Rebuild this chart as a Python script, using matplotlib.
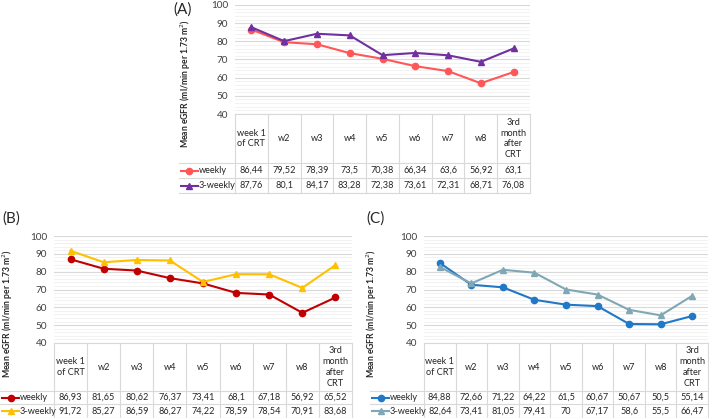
import numpy as np
import matplotlib
matplotlib.use("Agg")
import matplotlib.pyplot as plt
from matplotlib.ticker import MultipleLocator

# ------------------------------------------------------------------
# Mean eGFR per week, weekly vs. 3-weekly cisplatin, three panels
# each with an Excel style data table under the line chart

plt.rcParams['font.family'] = ['Lato', 'DejaVu Sans']

categories = ["week 1\nof CRT", "w2", "w3", "w4", "w5", "w6", "w7", "w8",
              "3rd\nmonth\nafter\nCRT"]
series_names = ["weekly", "3-weekly"]

a_weekly = [86.44, 79.52, 78.39, 73.5, 70.38, 66.34, 63.6, 56.92, 63.1]
a_3weekly = [87.76, 80.1, 84.17, 83.28, 72.38, 73.61, 72.31, 68.71, 76.08]
b_weekly = [86.93, 81.65, 80.62, 76.37, 73.41, 68.1, 67.18, 56.92, 65.52]
b_3weekly = [91.72, 85.27, 86.59, 86.27, 74.22, 78.59, 78.54, 70.91, 83.68]
c_weekly = [84.88, 72.66, 71.22, 64.22, 61.5, 60.67, 50.67, 50.5, 55.14]
c_3weekly = [82.64, 73.41, 81.05, 79.41, 70, 67.17, 58.6, 55.5, 66.47]

W, H = 709, 418
fig = plt.figure(figsize=(W / 100, H / 100), dpi=100)

GRID = "#d9d9d9"
MINOR = "#f0f0f0"
TXT = "#262626"
FS = 6.6


def fmt(v):
    return ("%g" % v).replace(".", ",")


def px_axes(x0, y0, x1, y1):
    # axes from pixel box (top-left origin)
    return fig.add_axes([x0 / W, 1 - y1 / H, (x1 - x0) / W, (y1 - y0) / H])


def panel(label, label_xy, leg_left, plot_l, plot_r, plot_t, plot_b,
          hdr_b, row1_b, row2_b, ylab_x, weekly, threeweekly, colors):
    # line chart
    ax = px_axes(plot_l, plot_t, plot_r, plot_b)
    x = np.arange(len(categories))
    ax.plot(x, weekly, color=colors[0], lw=1.5, marker="o", ms=4.5,
            zorder=3)
    ax.plot(x, threeweekly, color=colors[1], lw=1.5, marker="^", ms=4.5,
            zorder=3)
    ax.set_xlim(-0.5, len(categories) - 0.5)
    ax.set_ylim(40, 100)
    ax.yaxis.set_major_locator(MultipleLocator(10))
    ax.yaxis.set_minor_locator(MultipleLocator(2))
    ax.grid(axis="y", which="major", color=GRID, lw=0.8)
    ax.grid(axis="y", which="minor", color=MINOR, lw=0.6)
    ax.set_axisbelow(True)
    for s in ax.spines.values():
        s.set_visible(False)
    ax.set_xticks([])
    ax.tick_params(axis="y", which="both", length=0, labelsize=FS + 0.6,
                   labelcolor="#404040", pad=5)

    # data table underneath
    u = (plot_r - plot_l) / len(categories)
    tx = px_axes(leg_left, plot_b, plot_r, row2_b)
    tx.set_xlim(-0.5 - (plot_l - leg_left) / u, len(categories) - 0.5)
    tx.set_ylim(row2_b, plot_b)
    tx.axis("off")
    xl = -0.5 - (plot_l - leg_left) / u
    xr = len(categories) - 0.5
    lk = dict(color=GRID, lw=0.8, clip_on=False)
    tx.plot([-0.5, xr], [plot_b, plot_b], **lk)
    for yy in (hdr_b, row1_b, row2_b):
        tx.plot([xl, xr], [yy, yy], **lk)
    for i in range(len(categories) + 1):
        tx.plot([i - 0.5, i - 0.5], [plot_b, row2_b], **lk)

    for i, c in enumerate(categories):
        tx.text(i, (plot_b + hdr_b) / 2, c, ha="center", va="center",
                fontsize=FS, color=TXT, linespacing=1.25)
        tx.text(i, (hdr_b + row1_b) / 2, fmt(weekly[i]), ha="center",
                va="center", fontsize=FS, color=TXT)
        tx.text(i, (row1_b + row2_b) / 2, fmt(threeweekly[i]), ha="center",
                va="center", fontsize=FS, color=TXT)

    # legend keys inside the first column
    lw_units = 17 / u
    for yy, name, col, mk in (((hdr_b + row1_b) / 2, series_names[0],
                               colors[0], "o"),
                              ((row1_b + row2_b) / 2, series_names[1],
                               colors[1], "^")):
        x0 = xl + 2 / u
        tx.plot([x0, x0 + lw_units], [yy, yy], color=col, lw=1.5,
                clip_on=False)
        tx.plot([x0 + lw_units / 2], [yy], color=col, marker=mk, ms=4.5,
                clip_on=False)
        tx.text(x0 + lw_units + 1 / u, yy, name, ha="left", va="center",
                fontsize=FS, color=TXT)

    fig.text(ylab_x / W, 1 - ((plot_t + hdr_b) / 2) / H,
             "Mean eGFR (ml/min per 1.73 m$^2$)", rotation=90,
             ha="center", va="center", fontsize=6.2, fontweight="bold",
             color=TXT)
    fig.text(label_xy[0] / W, 1 - label_xy[1] / H, label, ha="center",
             va="center", fontsize=11, color=TXT)


panel("(A)", (183, 10), 179, 235, 530, 5, 114, 163, 178, 193, 186,
      a_weekly, a_3weekly, ["#ff5757", "#7030a0"])
panel("(B)", (11, 219), 0, 54, 352, 236, 343, 391, 404, 418, 8,
      b_weekly, b_3weekly, ["#c00000", "#ffc000"])
panel("(C)", (376, 219), 370, 424, 708, 236, 343, 391, 404, 418, 372,
      c_weekly, c_3weekly, ["#1f78c8", "#7fa8b4"])

fig.savefig("out.png", dpi=100)
